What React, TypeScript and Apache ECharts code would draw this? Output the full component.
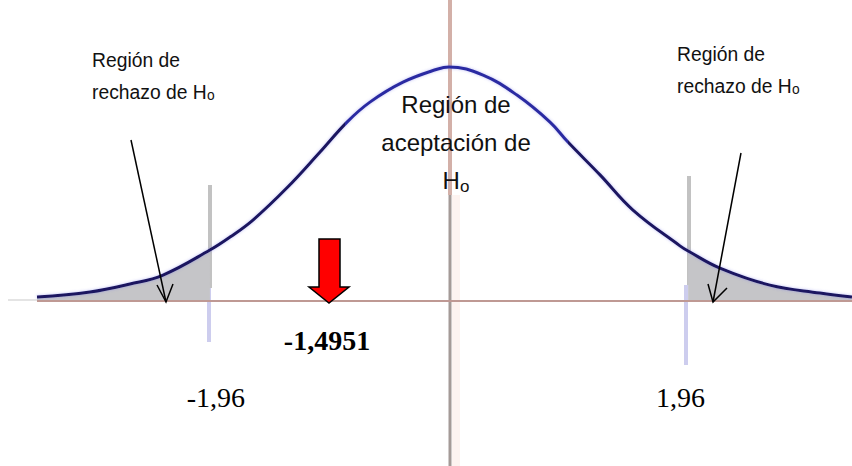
import React, { useEffect, useRef } from "react";
import * as echarts from "echarts";

// Curve: standardised value z and drawn density height
const zValues = [-3.377, -2.943, -2.615, -2.344, -1.96, -1.795, -1.607, -1.328, -1.057, -0.836, -0.648, -0.377, -0.098, 0, 0.279, 0.557, 0.828, 0.975, 1.238, 1.508, 1.893, 1.96, 2.221, 2.631, 3.041, 3.303];
const density = [0.0068, 0.0153, 0.029, 0.0443, 0.0869, 0.109, 0.138, 0.193, 0.254, 0.305, 0.339, 0.373, 0.395, 0.399, 0.385, 0.351, 0.305, 0.271, 0.215, 0.155, 0.094, 0.0852, 0.056, 0.027, 0.0136, 0.0068];

const criticalValues = [-1.96, 1.96];
const criticalLabels = ["-1,96", "1,96"];
const statisticLabel = "-1,4951";
const rejectLabel = ["Región de", "rechazo de H"];
const acceptLabel = ["Región de", "aceptación de", "H"];

// layout (pixels)
const W = 852;
const H = 466;
const CX = 449; // pixel of z = 0
const PX_PER_Z = 122;
const BASE_Y = 301; // pixel of density 0
const PX_PER_D = 586.6;

const xMin = -CX / PX_PER_Z;
const xMax = (W - CX) / PX_PER_Z;
const yMax = BASE_Y / PX_PER_D;
const yMin = -(H - BASE_Y) / PX_PER_D;

const pairs = zValues.map((z, i) => [z, density[i]]);
const leftTail = pairs.filter((p) => p[0] <= criticalValues[0]);
const rightTail = pairs.filter((p) => p[0] >= criticalValues[1]);

const subRich = (main: number, sub: number, pad: number) => ({
  a: { fontSize: main, fontFamily: "Liberation Sans", fill: "#111" },
  s: { fontSize: sub, fontFamily: "Liberation Sans", fill: "#111", padding: [pad, 0, 0, 0] },
});

export default function App() {
  const ref = useRef<HTMLDivElement>(null);
  useEffect(() => {
    if (!ref.current) return;
    const chart = echarts.init(ref.current, null, { renderer: "svg" });
    const tailStyle = {
      type: "line" as const,
      smooth: 0.4,
      symbol: "none",
      lineStyle: { width: 0 },
      areaStyle: { color: "#c5c5c8", opacity: 1 },
      z: 2,
      silent: true,
    };
    chart.setOption({
      animation: false,
      backgroundColor: "#ffffff",
      grid: { left: 0, right: 0, top: 0, bottom: 0 },
      xAxis: { type: "value", min: xMin, max: xMax, show: false },
      yAxis: { type: "value", min: yMin, max: yMax, show: false },
      visualMap: {
        show: false,
        type: "piecewise",
        dimension: 0,
        seriesIndex: 2,
        pieces: [
          { lt: -0.85, color: "#1a1660" },
          { gte: -0.85, lte: 0.975, color: "#2c2ca2" },
          { gt: 0.975, color: "#1a1660" },
        ],
      },
      series: [
        { ...tailStyle, data: leftTail },
        { ...tailStyle, data: rightTail },
        {
          type: "line",
          smooth: 0.4,
          symbol: "none",
          data: pairs,
          z: 5,
          lineStyle: { width: 3, shadowColor: "rgba(110,110,230,0.45)", shadowBlur: 3 },
        },
      ],
      graphic: [
        // vertical axis
        { type: "line", z: 1, shape: { x1: 450, y1: 0, x2: 450, y2: 195 }, style: { stroke: "#d3b0a8", lineWidth: 4 } },
        { type: "rect", z: 1, shape: { x: 452, y: 195, width: 8, height: 271 }, style: { fill: "rgba(250,228,222,0.45)" } },
        { type: "line", z: 1, shape: { x1: 450, y1: 195, x2: 450, y2: 466 }, style: { stroke: "#a49a97", lineWidth: 3 } },
        // critical value lines
        { type: "rect", z: 1, shape: { x: 208, y: 185, width: 4, height: 103 }, style: { fill: "#c2c2c2" } },
        { type: "rect", z: 1, shape: { x: 207, y: 288, width: 4, height: 54 }, style: { fill: "#cdcdee" } },
        { type: "rect", z: 1, shape: { x: 687, y: 176, width: 4, height: 109 }, style: { fill: "#c2c2c2" } },
        { type: "rect", z: 1, shape: { x: 684, y: 285, width: 4, height: 80 }, style: { fill: "#cdcdee" } },
        // horizontal axis
        { type: "line", z: 10, shape: { x1: 37, y1: BASE_Y, x2: W, y2: BASE_Y }, style: { stroke: "#bf9994", lineWidth: 2 } },
        { type: "line", z: 10, shape: { x1: 8, y1: BASE_Y - 1, x2: 37, y2: BASE_Y - 1 }, style: { stroke: "#e4e4e4", lineWidth: 2 } },
        // black pointer arrows
        { type: "polyline", z: 20, shape: { points: [[131, 140], [166, 302]] }, style: { stroke: "#000", lineWidth: 1.5, fill: "none" } },
        { type: "polyline", z: 20, shape: { points: [[157, 285], [166, 302], [173, 284]] }, style: { stroke: "#000", lineWidth: 1.5, fill: "none" } },
        { type: "polyline", z: 20, shape: { points: [[741, 153], [713, 302]] }, style: { stroke: "#000", lineWidth: 1.5, fill: "none" } },
        { type: "polyline", z: 20, shape: { points: [[708, 284], [713, 302], [727, 288]] }, style: { stroke: "#000", lineWidth: 1.5, fill: "none" } },
        // red arrow
        {
          type: "polygon",
          z: 20,
          shape: { points: [[319, 239], [340, 239], [340, 287], [349, 287], [329, 303], [309, 287], [319, 287]] },
          style: { fill: "#ff0000", stroke: "#000", lineWidth: 1.5 },
        },
        // texts
        {
          type: "text", z: 30, x: 92, y: 44, scaleX: 0.92,
          style: {
            text: `{a|${rejectLabel[0]}}\n{a|${rejectLabel[1]}}{s|o}`,
            lineHeight: 32, verticalAlign: "top", align: "left",
            rich: subRich(21, 15, 6),
          },
        },
        {
          type: "text", z: 30, x: 677, y: 38, scaleX: 0.92,
          style: {
            text: `{a|${rejectLabel[0]}}\n{a|${rejectLabel[1]}}{s|o}`,
            lineHeight: 32, verticalAlign: "top", align: "left",
            rich: subRich(21, 15, 6),
          },
        },
        {
          type: "text", z: 30, x: 456, y: 85,
          style: {
            text: `{a|${acceptLabel[0]}}\n{a|${acceptLabel[1]}}\n{a|${acceptLabel[2]}}{s|o}`,
            lineHeight: 38, verticalAlign: "top", align: "center",
            rich: subRich(24, 17, 12),
          },
        },
        {
          type: "text", z: 30, x: 327, y: 340,
          style: { text: statisticLabel, font: 'bold 28px "Liberation Serif"', fill: "#000", align: "center", verticalAlign: "middle" },
        },
        {
          type: "text", z: 30, x: 245, y: 397,
          style: { text: criticalLabels[0], font: '28px "Liberation Serif"', fill: "#000", align: "right", verticalAlign: "middle" },
        },
        {
          type: "text", z: 30, x: 656, y: 397,
          style: { text: criticalLabels[1], font: '28px "Liberation Serif"', fill: "#000", align: "left", verticalAlign: "middle" },
        },
      ],
    });
    return () => chart.dispose();
  }, []);
  return (
    <div
      ref={ref}
      style={{ position: "fixed", left: 0, top: 0, width: W, height: H, background: "#fff" }}
    />
  );
}
